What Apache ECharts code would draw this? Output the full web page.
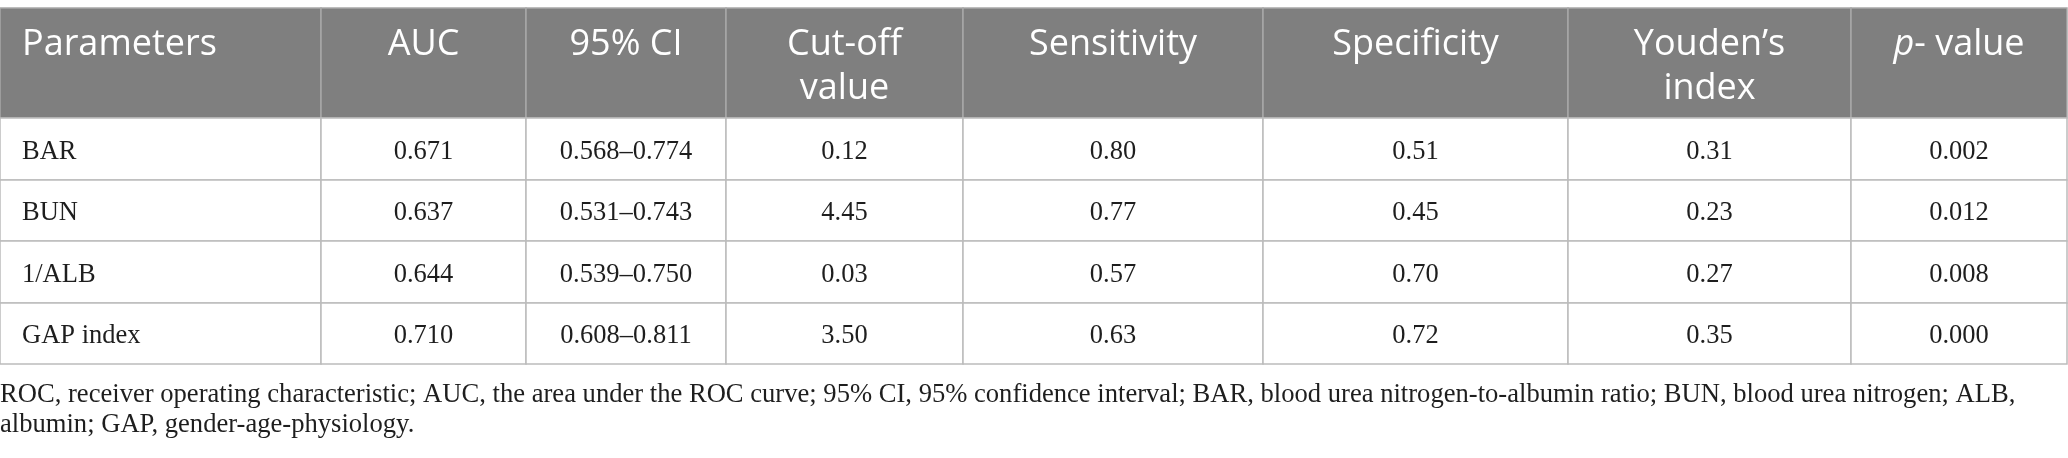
<!DOCTYPE html>
<html>
<head>
<meta charset="utf-8">
<script src="https://cdn.jsdelivr.net/npm/echarts@6/dist/echarts.min.js"></script>
<style>
  html, body { margin: 0; padding: 0; background: #ffffff; }
  #chart { width: 2068px; height: 458px; }
</style>
</head>
<body>
<div id="chart"></div>
<script>
// ---- data ----
const columns = ['Parameters', 'AUC', '95% CI', 'Cut-off\nvalue', 'Sensitivity', 'Specificity', 'Youden\u2019s\nindex', 'p- value'];
const parameters = ['BAR', 'BUN', '1/ALB', 'GAP index'];
const auc = [0.671, 0.637, 0.644, 0.710];
const ciLower = [0.568, 0.531, 0.539, 0.608];
const ciUpper = [0.774, 0.743, 0.750, 0.811];
const cutoff = [0.12, 4.45, 0.03, 3.50];
const sensitivity = [0.80, 0.77, 0.57, 0.63];
const specificity = [0.51, 0.45, 0.70, 0.72];
const youden = [0.31, 0.23, 0.27, 0.35];
const pValue = [0.002, 0.012, 0.008, 0.000];
const footnoteLines = [
  'ROC, receiver operating characteristic; AUC, the area under the ROC curve; 95% CI, 95% confidence interval; BAR, blood urea nitrogen-to-albumin ratio; BUN, blood urea nitrogen; ALB,',
  'albumin; GAP, gender-age-physiology.'
];

// ---- layout (not data) ----
const colEdges = [0, 321, 526, 726, 963, 1263, 1568, 1851, 2067];
const rowEdges = [0, 110, 172, 233, 295, 356];

// build cell table
const cells = [];
columns.forEach((h, c) => cells.push({ value: [c, 0], text: h, header: true }));
parameters.forEach((p, r) => {
  const row = [
    p,
    auc[r].toFixed(3),
    ciLower[r].toFixed(3) + '\u2013' + ciUpper[r].toFixed(3),
    cutoff[r].toFixed(2),
    sensitivity[r].toFixed(2),
    specificity[r].toFixed(2),
    youden[r].toFixed(2),
    pValue[r].toFixed(3)
  ];
  row.forEach((t, c) => cells.push({ value: [c, r + 1], text: t, header: false }));
});

const chart = echarts.init(document.getElementById('chart'), null, { renderer: 'canvas' });

const HFONT = 36, HLINE = 44;

function renderCell(params, api) {
  const c = api.value(0), r = api.value(1);
  const cell = cells[params.dataIndex];
  const p0 = api.coord([colEdges[c], rowEdges[r]]);
  const p1 = api.coord([colEdges[c + 1], rowEdges[r + 1]]);
  const x = p0[0], y = p0[1], w = p1[0] - p0[0], h = p1[1] - p0[1];
  const children = [];
  children.push({
    type: 'rect',
    shape: { x: x, y: y, width: w, height: h },
    style: cell.header
      ? { fill: '#7f7f7f', stroke: '#a8a8a8', lineWidth: 1.5 }
      : { fill: '#ffffff', stroke: '#bcbcbc', lineWidth: 1.5 },
    z2: cell.header ? 1 : 2
  });
  const left = c === 0;
  const tx = left ? x + 22 : x + w / 2;
  if (cell.header) {
    const isP = c === columns.length - 1;
    children.push({
      type: 'text',
      z2: 5,
      style: {
        text: isP ? '{i|p}{n|- value}' : cell.text,
        x: tx,
        y: y + 15,
        align: left ? 'left' : 'center',
        verticalAlign: 'top',
        fill: '#ffffff',
        fontFamily: 'Open Sans',
        fontSize: HFONT,
        lineHeight: HLINE,
        rich: isP ? {
          i: { fontStyle: 'italic', fontFamily: 'Open Sans', fontSize: HFONT, fill: '#ffffff', lineHeight: HLINE },
          n: { fontFamily: 'Open Sans', fontSize: HFONT, fill: '#ffffff', lineHeight: HLINE }
        } : undefined
      }
    });
  } else {
    children.push({
      type: 'text',
      z2: 5,
      style: {
        text: cell.text,
        x: tx,
        y: y + h / 2 + 3,
        align: left ? 'left' : 'center',
        verticalAlign: 'middle',
        fill: '#1e1e1e',
        fontFamily: 'Liberation Serif',
        fontSize: 26.5
      }
    });
  }
  return { type: 'group', children: children };
}

chart.setOption({
  animation: false,
  backgroundColor: '#ffffff',
  grid: { left: 0, top: 8, width: 2067, height: 356, containLabel: false },
  xAxis: { type: 'value', min: 0, max: 2067, show: false },
  yAxis: { type: 'value', min: 0, max: 356, inverse: true, show: false },
  series: [{
    type: 'custom',
    clip: false,
    renderItem: renderCell,
    data: cells.map(d => d.value),
    silent: true
  }],
  graphic: footnoteLines.map((line, i) => ({
    type: 'text',
    x: 0,
    y: 395 + i * 30,
    style: {
      text: line,
      fill: '#1e1e1e',
      fontFamily: 'Liberation Serif',
      fontSize: 26.6,
      verticalAlign: 'middle',
      align: 'left'
    }
  }))
});
</script>
</body>
</html>
